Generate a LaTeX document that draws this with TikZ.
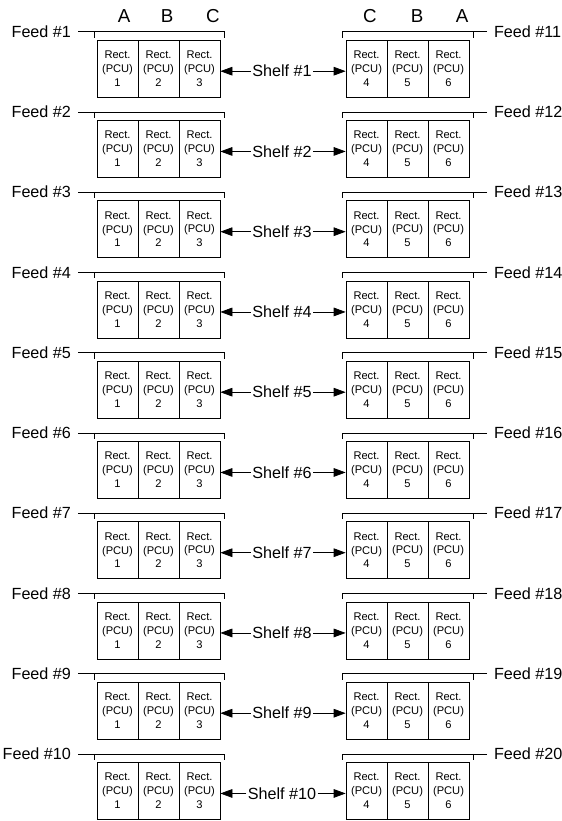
\documentclass[tikz,border=0pt]{standalone}
\usepackage{fontspec}
\setmainfont{Liberation Sans}
\usepackage{tikz}
\usetikzlibrary{arrows.meta}
\tikzset{
  cell/.style={draw, minimum width=1.23cm, minimum height=1.71cm, inner sep=0pt, align=center, font=\fontsize{9.5}{11.8}\selectfont},
  feed/.style={inner xsep=0.2cm, inner ysep=0pt, font=\fontsize{13.8}{16}\selectfont},
  shelf/.style={inner sep=1pt, font=\fontsize{13.8}{16}\selectfont},
  col/.style={inner sep=0pt, font=\fontsize{16}{19}\selectfont},
  shelfarrow/.style={-{Triangle[length=0.36cm,width=0.26cm]}}
}

\begin{document}
\begin{tikzpicture}[x=0.03cm, y=-0.03cm, line width=0.65pt]
  \useasboundingbox (0,0) rectangle (561,821);

  % phase letters over the two cabinets
  \node[col] (la) at (124,16) {A};
  \node[col] (lb) at (167,16) {B};
  \node[col] (lc) at (213,16) {C};
  \node[col] (rc) at (370,16) {C};
  \node[col] (rb) at (417,16) {B};
  \node[col] (ra) at (462,16) {A};

  % one row per shelf: feed bracket, three rectifiers each side
  \foreach \i in {1,...,10} {
    \pgfmathsetmacro{\yy}{31.7+80.25*(\i-1)}
    \pgfmathtruncatemacro{\j}{\i+10}

    \node[feed, anchor=east] (fl\i) at (78,\yy) {Feed \#\i};
    \coordinate (bl\i) at (224,\yy);
    \draw (fl\i.east) -- (bl\i) -- ++(0,6);
    \draw (94,\yy) -- ++(0,6);

    \node[feed, anchor=west] (fr\i) at (487,\yy) {Feed \#\j};
    \coordinate (br\i) at (342,\yy);
    \draw (fr\i.west) -- (br\i) -- ++(0,6);
    \draw (473,\yy) -- ++(0,6);

    \node[cell] (p\i-1) at (117.5,\yy+37) {Rect.\\(PCU)\\1};
    \node[cell] (p\i-2) at (158.5,\yy+37) {Rect.\\(PCU)\\2};
    \node[cell] (p\i-3) at (199.5,\yy+37) {Rect.\\(PCU)\\3};
    \node[cell] (p\i-4) at (366.5,\yy+37) {Rect.\\(PCU)\\4};
    \node[cell] (p\i-5) at (407.5,\yy+37) {Rect.\\(PCU)\\5};
    \node[cell] (p\i-6) at (448.5,\yy+37) {Rect.\\(PCU)\\6};

    \node[shelf] (s\i) at (282,\yy+39.5) {Shelf \#\i};
    \draw[shelfarrow] (s\i) -- (p\i-3.east |- s\i);
    \draw[shelfarrow] (s\i) -- (p\i-4.west |- s\i);
  }
\end{tikzpicture}
\end{document}
